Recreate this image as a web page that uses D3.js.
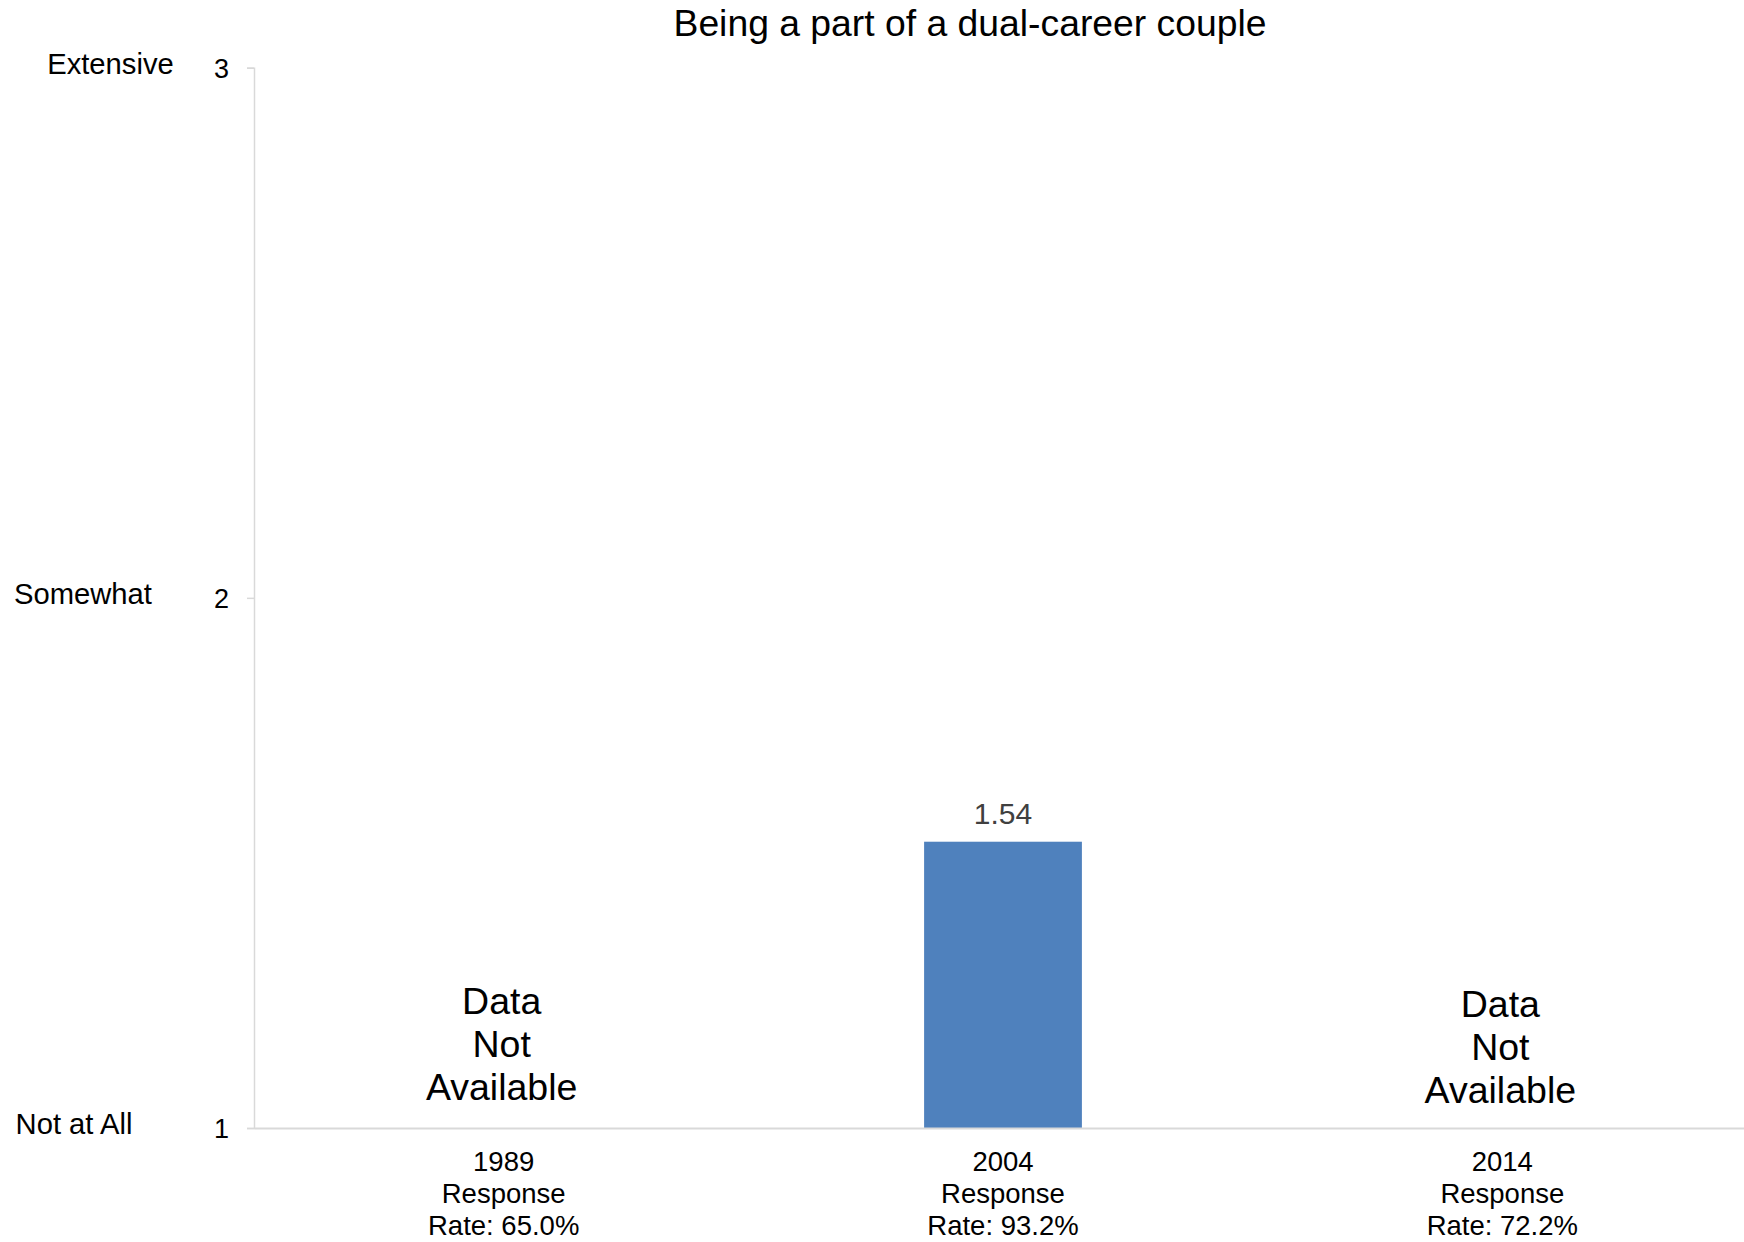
<!DOCTYPE html>
<html>
<head>
<meta charset="utf-8">
<script src="https://cdn.jsdelivr.net/npm/d3@7"></script>
<style>
  html, body { margin: 0; padding: 0; background: #fff; }
  svg { display: block; font-family: "Liberation Sans", Arial, sans-serif; }
</style>
</head>
<body>
<svg id="chart" width="1744" height="1242"></svg>
<script>
// ---- data ----
const title = "Being a part of a dual-career couple";
const categories = ["1989", "2004", "2014"];
const responseRates = ["65.0%", "93.2%", "72.2%"];
const values = [null, 1.54, null];
const yTicks = [1, 2, 3];
const levelLabels = ["Not at All", "Somewhat", "Extensive"];
const missingText = ["Data", "Not", "Available"];

// ---- layout ----
const W = 1744, H = 1242;
const plot = { left: 254, right: 1752, top: 67.7, bottom: 1128 };
const levelLabelX = [15.6, 14, 47.2];

const svg = d3.select("#chart");

const x = d3.scaleBand()
  .domain(categories)
  .range([plot.left, plot.right])
  .paddingInner(0.684)
  .paddingOuter(0.342);

const y = d3.scaleLinear()
  .domain([1, 3])
  .range([plot.bottom, plot.top]);

// title
svg.append("text")
  .attr("x", 970)
  .attr("y", 36)
  .attr("text-anchor", "middle")
  .attr("font-size", 37.3)
  .attr("fill", "#000")
  .text(title);

// y axis
const yAxis = d3.axisLeft(y).tickValues(yTicks).tickFormat(d3.format("d")).tickSize(7).tickPadding(18);
const gy = svg.append("g").attr("transform", `translate(${plot.left},0)`).call(yAxis);
gy.select(".domain").attr("stroke", "#d9d9d9").attr("stroke-width", 1.5);
gy.selectAll(".tick line").attr("stroke", "#d9d9d9").attr("stroke-width", 1.5);
gy.selectAll(".tick text")
  .attr("font-size", 27)
  .attr("font-family", "Liberation Sans, Arial, sans-serif")
  .attr("fill", "#000")
  .attr("dy", null)
  .attr("y", 9.5);

// level labels
svg.append("g").selectAll("text")
  .data(yTicks)
  .join("text")
  .attr("x", (d, i) => levelLabelX[i])
  .attr("y", d => y(d) + 6)
  .attr("font-size", 29.2)
  .attr("fill", "#000")
  .text((d, i) => levelLabels[i]);

// bars
svg.append("g").selectAll("rect")
  .data(categories.map((c, i) => ({ c, v: values[i] })).filter(d => d.v != null))
  .join("rect")
  .attr("x", d => x(d.c))
  .attr("width", x.bandwidth())
  .attr("y", d => y(d.v))
  .attr("height", d => y(1) - y(d.v))
  .attr("fill", "#4f81bd");

// value labels
svg.append("g").selectAll("text")
  .data(categories.map((c, i) => ({ c, v: values[i] })).filter(d => d.v != null))
  .join("text")
  .attr("x", d => x(d.c) + x.bandwidth() / 2)
  .attr("y", d => y(d.v) - 18)
  .attr("text-anchor", "middle")
  .attr("font-size", 30)
  .attr("fill", "#404040")
  .text(d => d3.format(".2f")(d.v));

// "Data Not Available" for missing
const missing = categories.map((c, i) => ({ c, v: values[i] })).filter(d => d.v == null);
missing.forEach((d, k) => {
  const cx = x(d.c) + x.bandwidth() / 2 - 2;
  const base = y(1) - 114 + (k === 1 ? 2.5 : 0);
  svg.append("text")
    .attr("text-anchor", "middle")
    .attr("font-size", 37.5)
    .attr("fill", "#000")
    .selectAll("tspan")
    .data(missingText)
    .join("tspan")
    .attr("x", cx)
    .attr("y", (t, j) => base + j * 43)
    .text(t => t);
});

// x axis
const xAxis = d3.axisBottom(x).tickSize(0).tickFormat(() => "");
const gx = svg.append("g").attr("transform", `translate(0,${plot.bottom})`).call(xAxis);
gx.select(".domain").attr("stroke", "#d9d9d9").attr("stroke-width", 2);

// category labels
svg.append("g").selectAll("text")
  .data(categories)
  .join("text")
  .attr("text-anchor", "middle")
  .attr("font-size", 27.5)
  .attr("fill", "#000")
  .each(function (c, i) {
    const cx = x(c) + x.bandwidth() / 2;
    const lines = [c, "Response", "Rate: " + responseRates[i]];
    d3.select(this).selectAll("tspan")
      .data(lines)
      .join("tspan")
      .attr("x", cx)
      .attr("y", (t, j) => 1171 + j * 32)
      .text(t => t);
  });
</script>
</body>
</html>
